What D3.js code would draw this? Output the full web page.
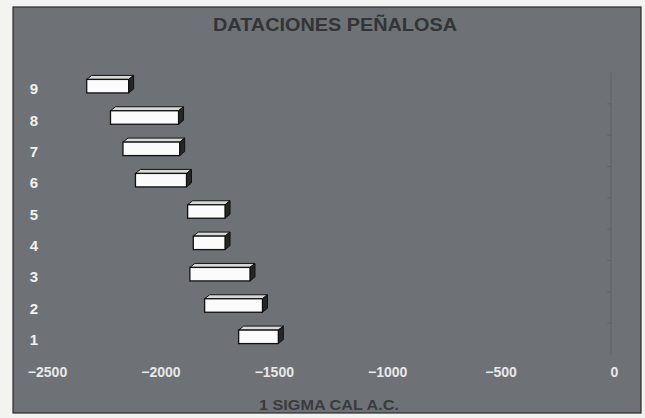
<!DOCTYPE html>
<html>
<head>
<meta charset="utf-8">
<script src="https://cdn.jsdelivr.net/npm/d3@7"></script>
<style>
  html, body { margin: 0; padding: 0; background: #f3f3f1; }
  svg { display: block; }
</style>
</head>
<body>
<svg id="chart" width="645" height="418"></svg>
<script>
// ---- data ----
const categories = ["1", "2", "3", "4", "5", "6", "7", "8", "9"];
const startValues = [-1655, -1805, -1870, -1855, -1880, -2110, -2165, -2220, -2325];
const endValues   = [-1480, -1550, -1605, -1715, -1715, -1885, -1915, -1920, -2140];
const xTicks = [-2500, -2000, -1500, -1000, -500, 0];
const chartTitle = "DATACIONES PEÑALOSA";
const xAxisTitle = "1 SIGMA CAL A.C.";

const data = categories.map((c, i) => ({ cat: c, start: startValues[i], end: endValues[i] }));

const svg = d3.select("#chart");

// chart frame (gray background)
svg.append("rect")
  .attr("x", 13).attr("y", 7).attr("width", 628).attr("height", 406)
  .attr("fill", "#6e7175").attr("stroke", "#2a2a2a").attr("stroke-width", 1.2);

const x = d3.scaleLinear().domain([-2500, 0]).range([47, 614]);
const y = d3.scaleBand().domain(categories.slice().reverse()).range([72.5, 354.5]);

// faint value-zero axis line with tick marks between categories
svg.append("line")
  .attr("x1", x(0) - 3).attr("x2", x(0) - 3)
  .attr("y1", y.range()[0]).attr("y2", y.range()[1])
  .attr("stroke", "#585b5f").attr("stroke-width", 1).attr("opacity", 0.6);
svg.append("g").selectAll("line")
  .data(categories.slice(1))
  .join("line")
  .attr("x1", x(0) - 7).attr("x2", x(0) - 3)
  .attr("y1", d => y(d) + y.bandwidth())
  .attr("y2", d => y(d) + y.bandwidth())
  .attr("stroke", "#585b5f").attr("opacity", 0.6);

// title
svg.append("text")
  .attr("x", 335).attr("y", 31)
  .attr("text-anchor", "middle")
  .attr("font-family", "Liberation Sans, Arial, sans-serif")
  .attr("font-weight", "bold").attr("font-size", 18.5)
  .attr("textLength", 244).attr("lengthAdjust", "spacingAndGlyphs")
  .attr("fill", "#333436")
  .text(chartTitle);

// x axis tick labels
const xAxis = d3.axisBottom(x).tickValues(xTicks).tickSize(0).tickPadding(0).tickFormat(d3.format("d"));
const gx = svg.append("g").attr("transform", "translate(0,367)").call(xAxis);
gx.select(".domain").remove();
gx.selectAll("text")
  .attr("font-family", "Liberation Sans, Arial, sans-serif")
  .attr("font-weight", "bold").attr("font-size", 14)
  .attr("fill", "#e8e8e8");

// x axis title
svg.append("text")
  .attr("x", 329).attr("y", 410)
  .attr("text-anchor", "middle")
  .attr("font-family", "Liberation Sans, Arial, sans-serif")
  .attr("font-weight", "bold").attr("font-size", 15)
  .attr("textLength", 140).attr("lengthAdjust", "spacingAndGlyphs")
  .attr("fill", "#3a3b3d")
  .text(xAxisTitle);

// category labels
const yAxis = d3.axisLeft(y).tickSize(0).tickPadding(0);
const gy = svg.append("g").attr("transform", "translate(38,0)").call(yAxis);
gy.select(".domain").remove();
gy.selectAll("text")
  .attr("font-family", "Liberation Sans, Arial, sans-serif")
  .attr("font-weight", "bold").attr("font-size", 15)
  .attr("fill", "#f2f2f2")
  .attr("dy", "0.4em");

// 3D floating bars
const dx = 5, dyOff = -4, h = 13.5;
const bars = svg.append("g").selectAll("g").data(data).join("g");

bars.each(function(d) {
  const g = d3.select(this);
  const x0 = x(d.start), x1 = x(d.end);
  const yc = y(d.cat) + y.bandwidth() / 2 - 2;
  const y0 = yc - h / 2, y1 = yc + h / 2;
  // top face
  g.append("path")
    .attr("d", `M${x0},${y0} L${x0 + dx},${y0 + dyOff} L${x1 + dx},${y0 + dyOff} L${x1},${y0} Z`)
    .attr("fill", "#d8d8d8").attr("stroke", "#111").attr("stroke-width", 1);
  // right face
  g.append("path")
    .attr("d", `M${x1},${y0} L${x1 + dx},${y0 + dyOff} L${x1 + dx},${y1 + dyOff} L${x1},${y1} Z`)
    .attr("fill", "#262626").attr("stroke", "#111").attr("stroke-width", 1);
  // front face
  g.append("rect")
    .attr("x", x0).attr("y", y0).attr("width", x1 - x0).attr("height", h)
    .attr("fill", "#fbfbfb").attr("stroke", "#111").attr("stroke-width", 1.3);
});
</script>
</body>
</html>
